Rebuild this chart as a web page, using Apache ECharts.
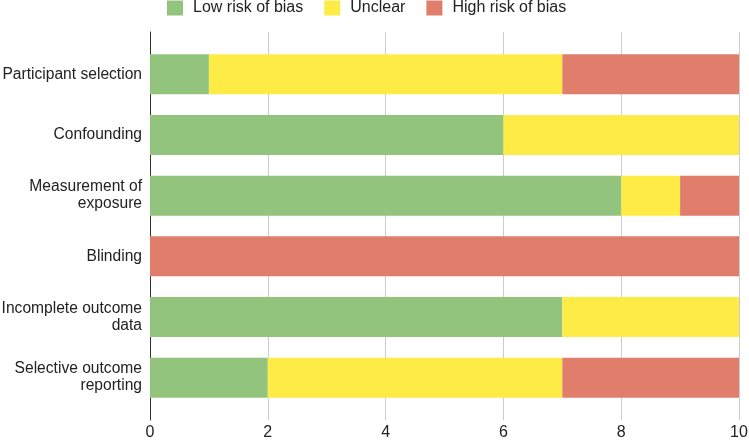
<!DOCTYPE html>
<html>
<head>
<meta charset="utf-8">
<script src="https://cdn.jsdelivr.net/npm/echarts@6/dist/echarts.min.js"></script>
<style>
  html, body { margin: 0; padding: 0; background: #fff; }
  #main { width: 749px; height: 441px; }
</style>
</head>
<body>
<div id="main"></div>
<script>
// domains, top to bottom
var domains = ['Participant selection', 'Confounding', 'Measurement of\nexposure', 'Blinding', 'Incomplete outcome\ndata', 'Selective outcome\nreporting'];
var lowRisk = [1, 6, 8, 0, 7, 2];
var unclear = [6, 4, 1, 0, 3, 5];
var highRisk = [3, 0, 1, 10, 0, 3];
var xTicks = [0, 2, 4, 6, 8, 10];

var myChart = echarts.init(document.getElementById('main'));

function mkSeries(name, data, color) {
    return {
        name: name,
        type: 'bar',
        stack: 'total',
        xAxisIndex: 1,
        yAxisIndex: 1,
        barWidth: '66%',
        itemStyle: { color: color },
        data: data
    };
}

var font = 'Liberation Sans, Arial, sans-serif';

myChart.setOption({
    animation: false,
    textStyle: { fontFamily: font },
    legend: {
        top: 0,
        left: 167,
        padding: 0,
        itemWidth: 16,
        itemHeight: 15,
        itemGap: 21,
        icon: 'rect',
        textStyle: { fontSize: 16, color: '#222', padding: [0, 0, 0, 5] },
        data: ['Low risk of bias', 'Unclear', 'High risk of bias']
    },
    // outer grid: gridlines + axis line, inner grid: the bars
    grid: [
        { left: 150, right: 10, top: 32, bottom: 21, outerBoundsMode: 'none' },
        { left: 150, right: 10, top: 44, bottom: 33, outerBoundsMode: 'none' }
    ],
    xAxis: [
        {
            type: 'value',
            gridIndex: 0,
            min: xTicks[0],
            max: xTicks[xTicks.length - 1],
            interval: 2,
            axisLine: { show: false },
            axisTick: { show: false },
            axisLabel: { fontSize: 16, color: '#222', margin: 5 },
            splitLine: { lineStyle: { color: '#ccc' } }
        },
        {
            type: 'value',
            gridIndex: 1,
            min: xTicks[0],
            max: xTicks[xTicks.length - 1],
            show: false
        }
    ],
    yAxis: [
        {
            type: 'value',
            gridIndex: 0,
            min: 0,
            max: 1,
            axisLine: { show: true, lineStyle: { color: '#333' } },
            axisTick: { show: false },
            axisLabel: { show: false },
            splitLine: { show: false }
        },
        {
            type: 'category',
            gridIndex: 1,
            inverse: true,
            data: domains,
            axisLine: { show: false },
            axisTick: { show: false },
            axisLabel: { fontSize: 15.6, color: '#222', margin: 8, lineHeight: 17 }
        }
    ],
    series: [
        mkSeries('Low risk of bias', lowRisk, '#93c47d'),
        mkSeries('Unclear', unclear, '#ffeb46'),
        mkSeries('High risk of bias', highRisk, '#e07e6b')
    ]
});
</script>
</body>
</html>
